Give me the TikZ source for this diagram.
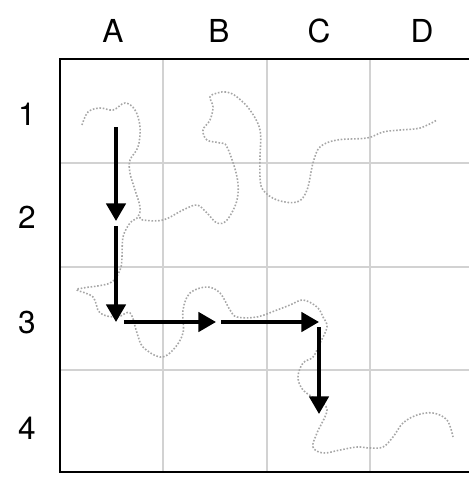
\documentclass[tikz,border=0pt]{standalone}
\usepackage{fontspec}
\setmainfont{TeX Gyre Heros}
\usepackage{tikz}
\usetikzlibrary{arrows.meta,positioning}

\begin{document}
\begin{tikzpicture}[
   x=0.02cm,y=-0.02cm,
   font=\fontsize{18}{20}\selectfont,
   lbl/.style={inner sep=0pt},
   cellline/.style={draw=gray!35,line width=1.2pt},
   frame/.style={draw=black,line width=1.7pt},
   walk/.style={draw=gray!70,densely dotted,line width=0.9pt},
   move/.style={draw=black,line width=2pt,-{Triangle[length=10pt,width=11pt]},
                shorten <=3pt,shorten >=0pt},
   >={Triangle[length=10pt,width=11pt]}]
 \useasboundingbox (0,0) rectangle (468,477);
 % grid
 \foreach \g in {163.3,266.6,369.9} {
   \draw[cellline] (\g,59) -- (\g,472);
   \draw[cellline] (60,\g) -- (474,\g);
 }
 \draw[frame] (474,59) -- (60,59) -- (60,472) -- (474,472);
 % labels
 \node[lbl] (colA) at (113,31) {A};
 \node[lbl] (colB) at (219,31) {B};
 \node[lbl] (colC) at (319,31) {C};
 \node[lbl] (colD) at (422,31) {D};
 \node[lbl] (row1) at (27,114) {1};
 \node[lbl] (row2) at (27,217) {2};
 \node[lbl] (row3) at (27,323) {3};
 \node[lbl] (row4) at (27,428) {4};
 % chain
 \draw[walk] plot[smooth,tension=0.6] coordinates {
   (82,125) (88,112) (100,108) (113,110) (125,103) (135,110) (140,127)
   (138,147) (130,160) (130,173) (135,190) (140,207) (138,217) (130,223)
   (123,237) (122,257) (120,270) (110,283) (83,288) (77,290) (93,297)
   (100,313) (117,317) (130,313) (137,333) (143,347) (160,357) (173,350)
   (183,333) (183,310) (190,293) (207,287) (220,293) (230,310) (237,317)
   (257,317) (277,310) (290,305) (303,300) (317,307) (323,317) (327,327)
   (320,343) (313,357) (303,363) (298,377) (303,390) (317,400) (327,410)
   (317,433) (313,447) (323,453) (340,450) (357,447) (370,448) (383,447)
   (393,437) (403,423) (417,415) (433,413) (447,420) (453,437)};
 \draw[walk] plot[smooth,tension=0.6] coordinates {
   (140,217) (143,220) (163,220) (183,210) (197,205) (207,213) (217,223)
   (227,220) (237,200) (237,177) (227,147) (220,143) (207,140) (203,130)
   (210,120) (213,107) (210,97) (217,93) (227,92) (237,97) (250,110)
   (260,130) (260,157) (260,177) (263,190) (277,200) (297,202) (307,190)
   (313,163) (320,147) (337,140) (367,138) (383,132) (400,130) (420,128)
   (437,120)};
 % moves
 \coordinate (A1) at (116,122);
 \coordinate (A2) at (116,221);
 \coordinate (A3) at (116,322);
 \coordinate (B3) at (216,322);
 \coordinate (C3) at (319,322);
 \coordinate (C4) at (319,414);
 \draw[move] (A1) -- (A2);
 \draw[move] (A2) -- (A3);
 \draw[move,shorten <=4.5pt] (A3) -- (B3);
 \draw[move] (B3) -- (C3);
 \draw[move] (C3) -- (C4);
\end{tikzpicture}
\end{document}
